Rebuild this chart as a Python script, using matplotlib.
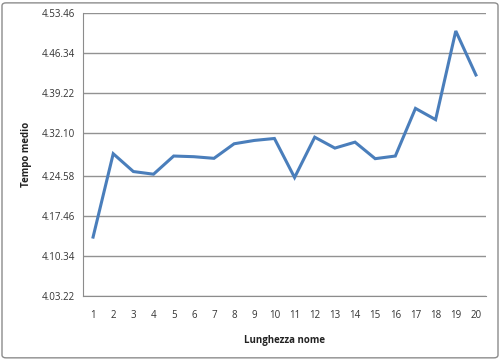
import matplotlib
matplotlib.use("Agg")
import matplotlib.pyplot as plt
from matplotlib.patches import FancyBboxPatch
from matplotlib.ticker import FuncFormatter

# name length vs average time (seconds)
lunghezza = list(range(1, 21))
tempo_sec = [253.68, 268.50, 265.33, 264.86, 268.09, 267.97, 267.68, 270.27, 270.86, 271.21,
             264.27, 271.44, 269.50, 270.56, 267.62, 268.09, 276.56, 274.56, 290.32, 282.50]
y_ticks = [243.22, 250.34, 257.46, 264.58, 272.10, 279.22, 286.34, 293.46]


def fmt_time(v, pos=None):
    m = int(v // 60)
    s = v - 60 * m
    return f"{m}.{s:05.2f}"


plt.rcParams['font.family'] = ['Open Sans', 'DejaVu Sans']

fig = plt.figure(figsize=(5, 3.6), dpi=100)
ax = fig.add_axes([0.166, 0.178, 0.806, 0.785])

ax.plot(lunghezza, tempo_sec, color='#4a7ebb', lw=2.2, solid_joinstyle='miter')

ax.set_xlim(0.5, 20.5)
ax.set_ylim(y_ticks[0], y_ticks[-1])
ax.set_xticks(lunghezza)
ax.set_yticks(y_ticks)
ax.yaxis.set_major_formatter(FuncFormatter(fmt_time))
ax.grid(axis='y', color='#929292', lw=1)
ax.set_axisbelow(True)
ax.tick_params(length=0, labelsize=7, colors='#333333', pad=6)
ax.tick_params(axis='x', pad=10)
for side in ('top', 'right'):
    ax.spines[side].set_visible(False)
for side in ('left', 'bottom'):
    ax.spines[side].set_color('#8c8c8c')

ax.set_xlabel('Lunghezza nome', fontsize=7, fontweight='bold', color='#222222', labelpad=10)
ax.set_ylabel('Tempo medio', fontsize=7, fontweight='bold', color='#222222', labelpad=7)

border = FancyBboxPatch((0.004, 0.006), 0.992, 0.986, boxstyle='round,pad=0,rounding_size=0.008',
                        transform=fig.transFigure, fill=False, edgecolor='#8c8c8c', lw=1)
fig.patches.append(border)

fig.savefig('out.png', dpi=100)
